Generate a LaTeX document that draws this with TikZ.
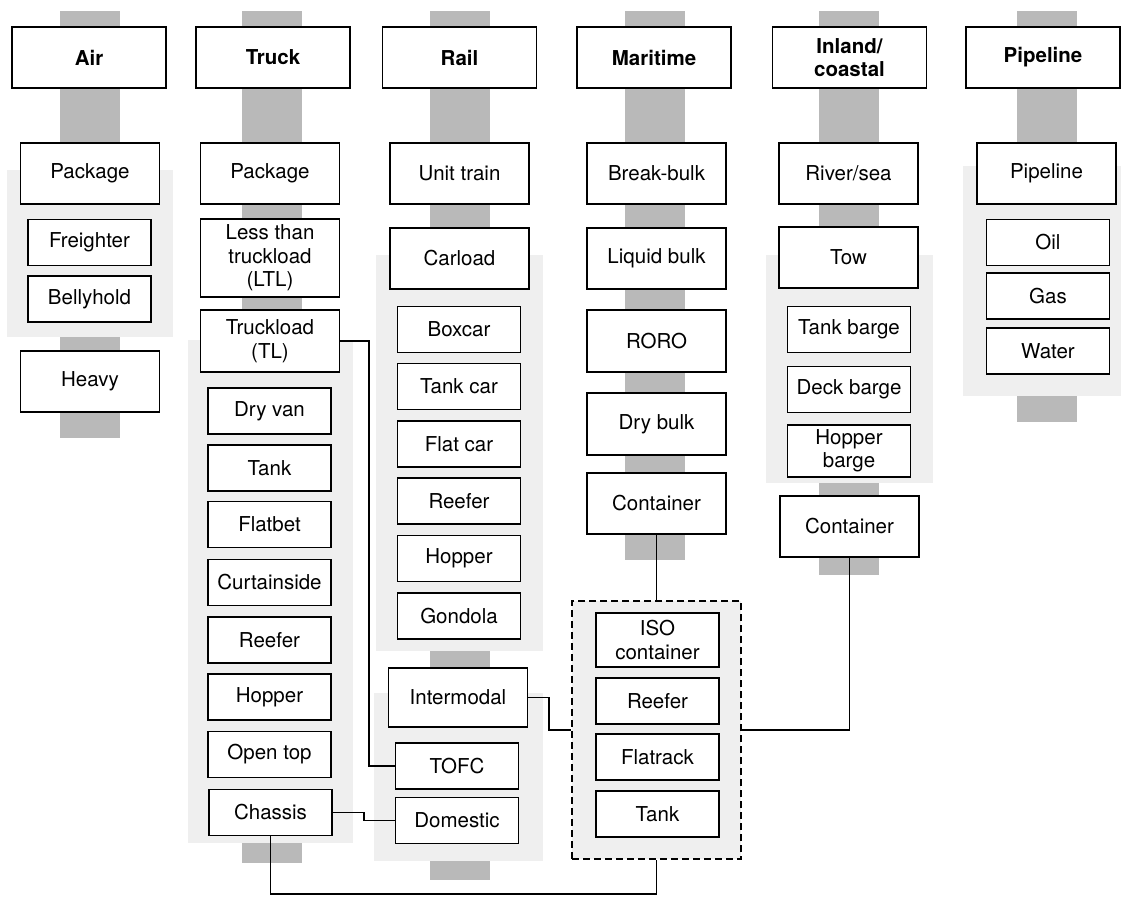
\documentclass[tikz,border=0pt]{standalone}
\usepackage{fontspec}
\setmainfont{TeX Gyre Heros}
\usetikzlibrary{positioning}
\definecolor{bargray}{RGB}{185,185,185}
\definecolor{panelgray}{RGB}{239,239,239}
\newcommand{\modebar}[2]{\fill[bargray] (#1-30,11) rectangle (#1+30,#2);}
\newcommand{\modepanel}[4]{\fill[panelgray] (#1,#2) rectangle (#3,#4);}
\tikzset{
	box/.style={draw, line width=1.8pt, fill=white, align=center, inner sep=0pt,
		font=\fontsize{20.5}{23.5}\selectfont},
	head/.style={box, minimum width=154, minimum height=61,
		font=\fontsize{20.5}{23.5}\selectfont\bfseries},
	lead/.style={box, minimum width=139, minimum height=61},
	item/.style={box, minimum width=123, minimum height=46},
	group/.style={draw, fill=panelgray, line width=1.8pt, dash pattern=on 7pt off 4pt,
		minimum width=169, minimum height=258, inner sep=0pt},
	conn/.style={line width=1.9pt}
}

\begin{document}
\begin{tikzpicture}[x=1pt, y=-1pt]

					\useasboundingbox (0,0) rectangle (1121,897);

					\modebar{90}{438}
					\modebar{272}{863}
					\modebar{459.5}{880}
					\modebar{654.5}{560}
					\modebar{849}{575}
					\modebar{1047}{422}

					\modepanel{7}{170}{173}{337}
					\modepanel{188}{340}{353}{843}
					\modepanel{376}{255}{543}{651}
					\modepanel{374}{693}{543}{861}
					\modepanel{766}{255}{933}{483}
					\modepanel{963}{166}{1121}{396}

					\node[group] (isogroup) at (656.5,730) {};

					\node[head] (air) at (89,57.5) {Air};
					\node[lead] (airpack) at (90,173.5) {Package};
					\node[item] (freighter) at (89.5,242.5) {Freighter};
					\node[item] (bellyhold) at (89.5,299) {Bellyhold};
					\node[lead] (heavy) at (90,381.5) {Heavy};

					\node[head] (truck) at (273,57.5) {Truck};
					\node[lead] (truckpack) at (270,173.5) {Package};
					\node[lead, minimum height=78] (ltl) at (270,258) {Less than\\truckload\\(LTL)};
					\node[lead, minimum height=62] (tl) at (270,341) {Truckload\\(TL)};
					\node[item] (dryvan) at (269.5,411) {Dry van};
					\node[item] (trucktank) at (269.5,468) {Tank};
					\node[item] (flatbet) at (269.5,524.5) {Flatbet};
					\node[item] (curtainside) at (269.5,582.5) {Curtainside};
					\node[item] (truckreefer) at (269.5,640) {Reefer};
					\node[item] (truckhopper) at (269.5,697) {Hopper};
					\node[item] (opentop) at (269.5,754.5) {Open top};
					\node[item] (chassis) at (270.5,812.5) {Chassis};

					\node[head] (rail) at (459.5,57.5) {Rail};
					\node[lead] (unittrain) at (459.5,173.5) {Unit train};
					\node[lead] (carload) at (459.5,258.5) {Carload};
					\node[item] (boxcar) at (459,329.5) {Boxcar};
					\node[item] (tankcar) at (459,386.5) {Tank car};
					\node[item] (flatcar) at (459,444) {Flat car};
					\node[item] (railreefer) at (459,501) {Reefer};
					\node[item] (railhopper) at (459,558.5) {Hopper};
					\node[item] (gondola) at (459,616) {Gondola};
					\node[lead, minimum height=59] (intermodal) at (458,697.5) {Intermodal};
					\node[item] (tofc) at (457,766) {TOFC};
					\node[item] (domestic) at (457,820.5) {Domestic};

					\node[head] (maritime) at (654,57.5) {Maritime};
					\node[lead] (breakbulk) at (656.5,173.5) {Break-bulk};
					\node[lead] (liquidbulk) at (656.5,258.5) {Liquid bulk};
					\node[lead, minimum height=62] (roro) at (656.5,341) {RORO};
					\node[lead, minimum height=62] (drybulk) at (656.5,424) {Dry bulk};
					\node[lead] (mcont) at (656.5,503.5) {Container};
					\node[item, minimum height=54] (iso) at (657.5,640) {ISO\\container};
					\node[item] (isoreefer) at (657.5,701) {Reefer};
					\node[item] (flatrack) at (657.5,757) {Flatrack};
					\node[item] (isotank) at (657.5,814) {Tank};

					\node[head] (inland) at (849.5,57.5) {Inland/\\coastal};
					\node[lead] (riversea) at (848.5,173.5) {River/sea};
					\node[lead] (tow) at (848.5,257.5) {Tow};
					\node[item] (tankbarge) at (849,329.5) {Tank barge};
					\node[item] (deckbarge) at (849,389.5) {Deck barge};
					\node[item, minimum height=52] (hopperbarge) at (849,451) {Hopper\\barge};
					\node[lead] (icont) at (849.5,526.5) {Container};

					\node[head] (pipeline) at (1043,57.5) {Pipeline};
					\node[lead] (pipe) at (1046.5,173.5) {Pipeline};
					\node[item] (oil) at (1048,242.5) {Oil};
					\node[item] (gas) at (1048,296) {Gas};
					\node[item] (water) at (1048,351) {Water};

					\draw[conn] (mcont.south) -- (isogroup.north);
					\draw[conn] (tl.east) -- ++(29,0) |- (tofc.west);
					\draw[conn] (chassis.east) -- ++(31,0) |- (domestic.west);
					\draw[conn] (intermodal.east) -- ++(21,0) |- (isogroup.west);
					\draw[conn] (isogroup.east) -| (icont.south);
					\draw[conn] (chassis.south) -- ++(0,58) -| (isogroup.south);

\end{tikzpicture}
\end{document}
